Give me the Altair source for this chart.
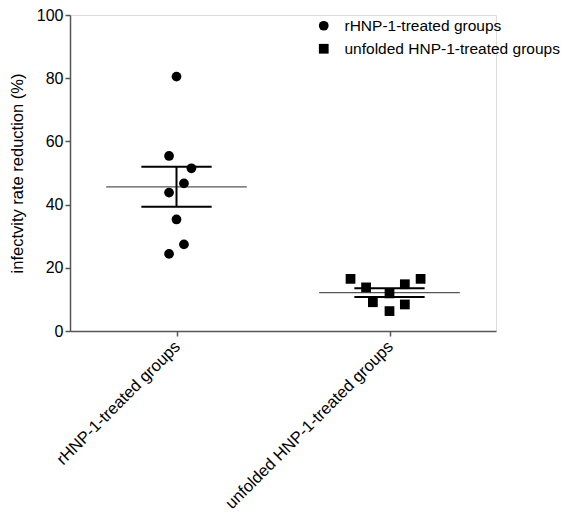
import altair as alt
import pandas as pd

groups = ["rHNP-1-treated groups", "unfolded HNP-1-treated groups"]
group_pos = [1, 2]

g1_values = [80.5, 55.4, 51.5, 46.7, 43.8, 35.3, 27.4, 24.4]
g1_jitter = [0.0, -0.035, 0.07, 0.035, -0.035, 0.0, 0.035, -0.035]
g2_values = [16.5, 13.8, 9.1, 11.9, 6.3, 14.8, 8.4, 16.5]
g2_jitter = [-0.183, -0.11, -0.078, 0.0, 0.0, 0.072, 0.072, 0.146]

rows = []
for v, j in zip(g1_values, g1_jitter):
    rows.append({"group": groups[0], "pos": group_pos[0], "jit": j, "value": v})
for v, j in zip(g2_values, g2_jitter):
    rows.append({"group": groups[1], "pos": group_pos[1], "jit": j, "value": v})
df = pd.DataFrame(rows)

FONT = "Liberation Sans"
xscale = alt.Scale(domain=[0.5, 2.5], nice=False, zero=False)
yscale = alt.Scale(domain=[0, 100], nice=False)

base = alt.Chart(df)

points = base.transform_calculate(
    xp="datum.pos + datum.jit"
).mark_point(filled=True, opacity=1, color="black", size=95).encode(
    x=alt.X("xp:Q", scale=xscale, title=None,
            axis=alt.Axis(values=[1, 2],
                          labelExpr="datum.value == 1 ? 'rHNP-1-treated groups' : 'unfolded HNP-1-treated groups'",
                          labelAngle=-45, labelFontSize=16.5, labelFont=FONT,
                          labelColor="black", tickSize=5, tickColor="#555",
                          domainColor="#555", domainWidth=1.5, tickWidth=1.5,
                          grid=False, labelPadding=2, labelLimit=0,
                          labelOffset=-5)),
    y=alt.Y("value:Q", scale=yscale, title="infectvity rate reduction (%)",
            axis=alt.Axis(values=[0, 20, 40, 60, 80, 100], labelFontSize=16,
                          labelFont=FONT, labelColor="black", tickSize=5,
                          tickColor="#555", domainColor="#555", domainWidth=1.5,
                          tickWidth=1.5, grid=False, titleFont=FONT,
                          titleFontSize=16.5, titleFontWeight="normal",
                          titleColor="black", titlePadding=11)),
    shape=alt.Shape("group:N", scale=alt.Scale(domain=groups, range=["circle", "square"]),
                    legend=alt.Legend(title=None, orient="none", legendX=246, legendY=3,
                                      labelFontSize=15.5, labelFont=FONT, labelColor="black",
                                      symbolFillColor="black", symbolStrokeColor="black",
                                      symbolSize=95, rowPadding=5, labelOffset=13,
                                      padding=0, labelLimit=0)),
)

stats = base.transform_aggregate(
    mean="mean(value)", se="stderr(value)", groupby=["group", "pos"]
).transform_calculate(
    lo="datum.mean - datum.se", hi="datum.mean + datum.se",
    ml="datum.pos - 0.33", mr="datum.pos + 0.33",
    cl="datum.pos - 0.165", cr="datum.pos + 0.165",
)

mean_line = stats.mark_rule(color="#555", strokeWidth=1.2).encode(
    x=alt.X("ml:Q", scale=xscale), x2="mr:Q", y=alt.Y("mean:Q", scale=yscale))
cap_hi = stats.mark_rule(color="black", strokeWidth=2).encode(
    x=alt.X("cl:Q", scale=xscale), x2="cr:Q", y=alt.Y("hi:Q", scale=yscale))
cap_lo = stats.mark_rule(color="black", strokeWidth=2).encode(
    x=alt.X("cl:Q", scale=xscale), x2="cr:Q", y=alt.Y("lo:Q", scale=yscale))
vbar = stats.mark_rule(color="black", strokeWidth=2).encode(
    x=alt.X("pos:Q", scale=xscale), y=alt.Y("lo:Q", scale=yscale), y2="hi:Q")

chart = alt.layer(mean_line, vbar, cap_hi, cap_lo, points).properties(
    width=426, height=316,
    autosize=alt.AutoSizeParams(type="none"),
    padding={"left": 62, "top": 7, "right": 77, "bottom": 181},
).configure_view(stroke=None).configure(background="white")

chart.save("out.html", embed_options={"renderer": "svg", "actions": False})
